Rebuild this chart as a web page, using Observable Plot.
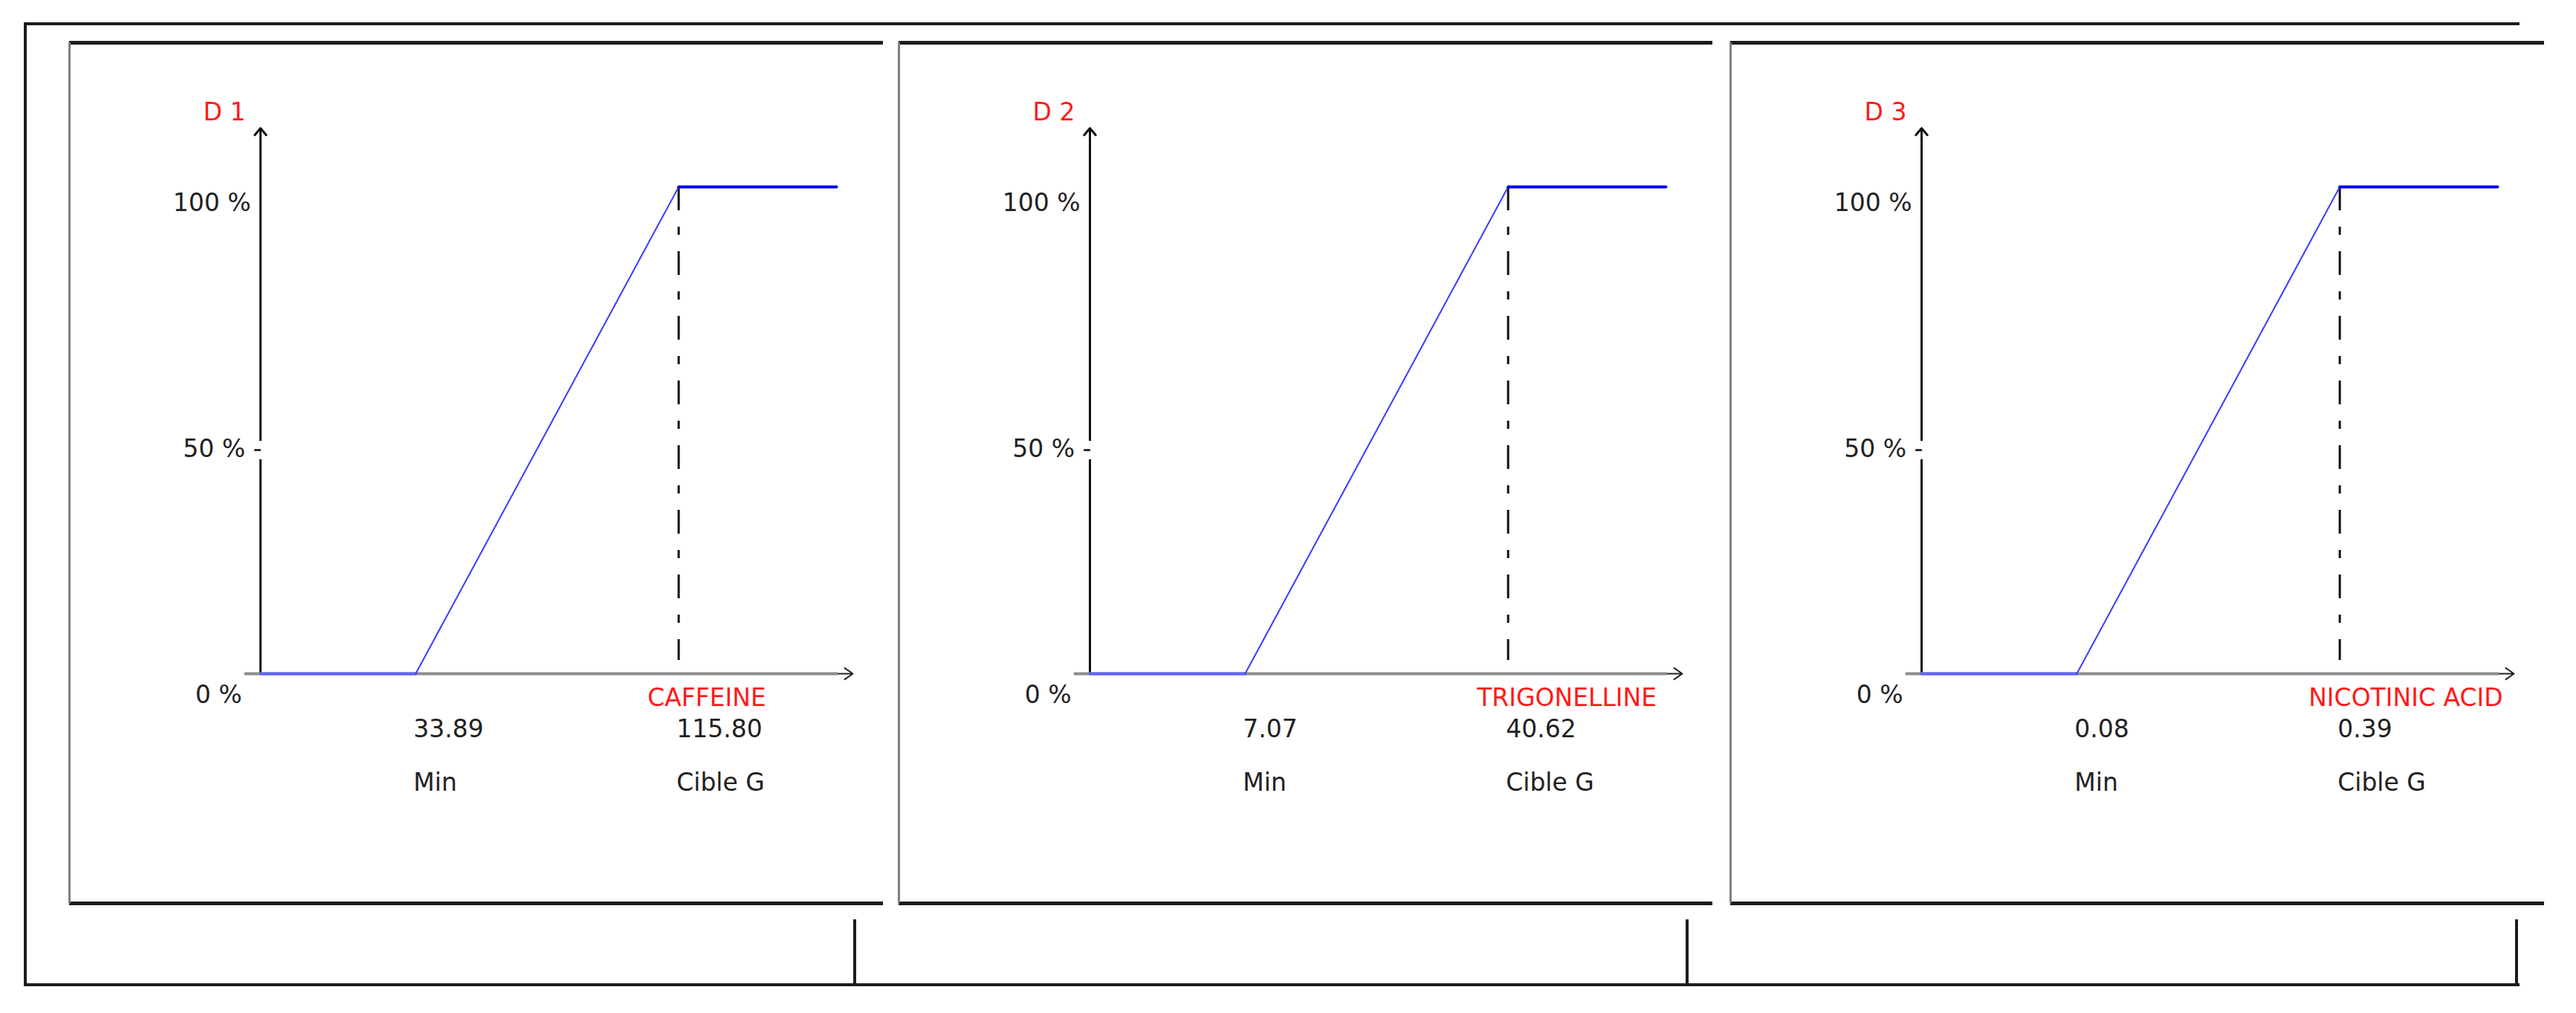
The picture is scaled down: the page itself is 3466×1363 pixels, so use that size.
<!DOCTYPE html>
<html>
<head>
<meta charset="utf-8">
<script src="https://cdn.jsdelivr.net/npm/d3@7"></script>
<script src="https://cdn.jsdelivr.net/npm/@observablehq/plot@0.6"></script>
<style>
  html, body { margin: 0; padding: 0; background: #ffffff; }
  #root { position: relative; width: 3466px; height: 1363px; overflow: hidden; background: #ffffff; }
  .ln { position: absolute; }
  .panel { position: absolute; }
  .panel svg { overflow: visible; }
</style>
</head>
<body>
<div id="root"></div>
<script>
// ---- data ----
const panelNames = ["D 1", "D 2", "D 3"];
const responses = ["CAFFEINE", "TRIGONELLINE", "NICOTINIC ACID"];
const minValues = [33.89, 7.07, 0.08];
const targetValues = [115.80, 40.62, 0.39];
const yTicks = [0, 50, 100];
const yTickLabels = ["0 %", "50 % -", "100 %"];
const boundLabels = ["Min", "Cible G"];

// ---- layout ----
const root = document.getElementById("root");
function line(l, t, w, h, c) {
  const d = document.createElement("div");
  d.className = "ln";
  Object.assign(d.style, {left: l + "px", top: t + "px", width: w + "px", height: h + "px", background: c});
  root.appendChild(d);
}
const dark = "#1c1c1c";
const gray = "#808080";
const red = "#ff1a1a";
const ink = "#222222";
const PW = 1095, PH = 1158, PT = 57;
const lefts = [93, 1209, 2328];

panelNames.forEach((name, i) => {
  const m = minValues[i], t = targetValues[i], span = t - m;
  const lo = m - 0.59 * span, hi = t + 0.6 * span;
  const low = [{x: lo, y: 0}, {x: m, y: 0}];
  const rise = [{x: m, y: 0}, {x: t, y: 100}];
  const top = [{x: t, y: 100}, {x: hi, y: 100}];
  const below = [{x: m, y: 0, v: m, lab: boundLabels[0]}, {x: t, y: 0, v: t, lab: boundLabels[1]}];

  const tickMark = (k, dx, dy, extra = {}) =>
    Plot.text([yTicks[k]], {
      y: (d) => d, frameAnchor: "left", text: () => yTickLabels[k],
      dx, dy, textAnchor: "end", fill: ink, fontSize: 33, ...extra
    });

  const chart = Plot.plot({
    width: PW, height: PH,
    marginLeft: 257, marginRight: 63, marginTop: 194, marginBottom: 309,
    x: {domain: [lo, hi], axis: null},
    y: {domain: [0, 100], axis: null},
    style: {fontFamily: "'DejaVu Sans', sans-serif", fontSize: "33px", background: "transparent", overflow: "visible"},
    marks: [
      // y axis with arrow head
      Plot.arrow([{x: lo, y1: 0, y2: 100}], {
        x1: "x", x2: "x", y1: "y1", y2: "y2", insetEnd: -79,
        stroke: "#111", strokeWidth: 3, headLength: 6, headAngle: 80
      }),
      // x axis arrow head (dark) + gray shaft
      Plot.arrow([{x1: lo, x2: hi, y: 0}], {
        x1: "x1", x2: "x2", y1: "y", y2: "y", insetStart: -21, insetEnd: -22,
        stroke: "#222", strokeWidth: 2, headLength: 10, headAngle: 70
      }),
      Plot.ruleY([0], {insetLeft: -21, insetRight: -2, stroke: "#8c8c8c", strokeWidth: 4}),
      // target dashed line
      Plot.ruleX([t], {y1: 100, y2: 0, insetBottom: 18, stroke: "#111", strokeWidth: 3, strokeDasharray: "32,22,11,22"}),
      // desirability curve
      Plot.line(low, {x: "x", y: "y", stroke: "#6464ff", strokeWidth: 4}),
      Plot.line(rise, {x: "x", y: "y", stroke: "#3a3aff", strokeWidth: 2}),
      Plot.line(top, {x: "x", y: "y", stroke: "#0000f0", strokeWidth: 4}),
      // labels
      Plot.text([name], {frameAnchor: "top-left", dx: -20, dy: -113, textAnchor: "end", fill: red, fontSize: 33}),
      tickMark(2, -13, 22),
      tickMark(1, 2, 25, {stroke: "white", strokeWidth: 22, strokeLinejoin: "round", paintOrder: "stroke"}),
      tickMark(0, -25, 29),
      Plot.text([{x: t, y: 0}], {x: "x", y: "y", text: () => responses[i], dx: -42, dy: 33, textAnchor: "start", fill: red, fontSize: 33}),
      Plot.text(below, {x: "x", y: "y", text: (d) => d.v.toFixed(2), dx: -3, dy: 75, textAnchor: "start", fill: ink, fontSize: 33}),
      Plot.text(below, {x: "x", y: "y", text: "lab", dx: -3, dy: 147, textAnchor: "start", fill: ink, fontSize: 33})
    ]
  });
  const holder = document.createElement("div");
  holder.className = "panel";
  Object.assign(holder.style, {left: lefts[i] + "px", top: PT + "px", width: PW + "px", height: PH + "px"});
  holder.appendChild(chart);
  root.appendChild(holder);

  // panel border: thick top & bottom, thin gray left
  line(lefts[i], PT - 2, PW, 5, dark);
  line(lefts[i], PT + PH - 2, PW, 5, dark);
  line(lefts[i] - 1, PT, 3, PH, gray);
});

// outer frame
line(32, 30, 3358, 4, dark);
line(32, 30, 4, 1297, dark);
line(32, 1323, 3358, 4, dark);
[1150, 2270, 3386].forEach((x) => line(x - 2, 1237, 4, 88, dark));
</script>
</body>
</html>
